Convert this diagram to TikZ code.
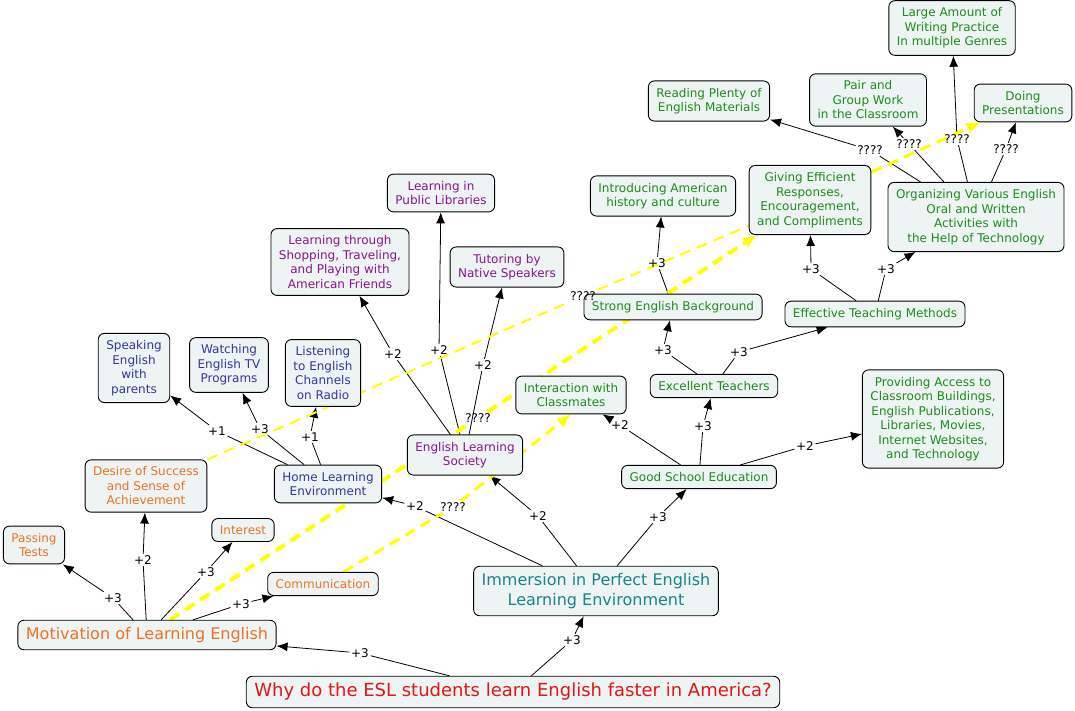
\documentclass[tikz,border=0pt]{standalone}
\usepackage{fontspec}
\setmainfont{DejaVu Sans}
\usetikzlibrary{arrows.meta,backgrounds}
\definecolor{boxfill}{HTML}{EEF4F4}
\definecolor{askred}{HTML}{E31515}
\definecolor{immteal}{HTML}{1A8585}
\definecolor{motorange}{HTML}{EE7222}
\definecolor{homeblue}{HTML}{34369A}
\definecolor{socpurple}{HTML}{8A168A}
\definecolor{schoolgreen}{HTML}{1E8C1E}
\definecolor{hiliteyellow}{HTML}{FFFF00}
\begin{document}
\begin{tikzpicture}[
        x=1pt, y=-1pt,
        concept/.style={draw, rounded corners=6pt, fill=boxfill, align=center, line width=0.9pt, inner xsep=8pt, inner ysep=7pt, font=\fontsize{12}{14.5}\selectfont},
        bigconcept/.style={concept, font=\fontsize{16}{20}\selectfont},
        lbl/.style={inner sep=1.5pt, font=\fontsize{12}{14}\selectfont},
        link/.style={line width=0.8pt},
        arrowlink/.style={link, -{Latex[length=11pt,width=9pt]}},
        crosslink/.style={hiliteyellow, line width=#1, dash pattern=on 11pt off 7pt},
        crosslink/.default=2pt,
        crossarrow/.style={crosslink=#1, -{Latex[length=14pt,width=12pt]}},
        crossarrow/.default=3pt
    ]
    \useasboundingbox (0,0) rectangle (1075,711);

    % concepts
    \node[concept, text=askred, font=\fontsize{18}{22}\selectfont] (why) at (513,692) {Why do the ESL students learn English faster in America?};
    \node[bigconcept, text=immteal] (imm) at (596,591) {Immersion in Perfect English\\Learning Environment};
    \node[bigconcept, text=motorange] (mot) at (147,635) {Motivation of Learning English};
    \node[concept, text=motorange] (pass) at (34,545) {Passing\\Tests};
    \node[concept, text=motorange] (desire) at (146,486) {Desire of Success\\and Sense of\\Achievement};
    \node[concept, text=motorange] (interest) at (243,530) {Interest};
    \node[concept, text=motorange] (comm) at (323,584) {Communication};
    \node[concept, text=homeblue] (home) at (328,484) {Home Learning\\Environment};
    \node[concept, text=homeblue] (speak) at (134,368) {Speaking\\English\\with\\parents};
    \node[concept, text=homeblue] (watch) at (229,365) {Watching\\English TV\\Programs};
    \node[concept, text=homeblue] (listen) at (323,373) {Listening\\to English\\Channels\\on Radio};
    \node[concept, text=socpurple] (soc) at (465,455) {English Learning\\Society};
    \node[concept, text=socpurple] (shop) at (340,262) {Learning through\\Shopping, Traveling,\\and Playing with\\American Friends};
    \node[concept, text=socpurple] (lib) at (441,193) {Learning in\\Public Libraries};
    \node[concept, text=socpurple] (tutor) at (507,267) {Tutoring by\\Native Speakers};
    \node[concept, text=schoolgreen] (inter) at (571,395) {Interaction with\\Classmates};
    \node[concept, text=schoolgreen] (school) at (699,477) {Good School Education};
    \node[concept, text=schoolgreen] (teach) at (714,386) {Excellent Teachers};
    \node[concept, text=schoolgreen] (access) at (933,419) {Providing Access to\\Classroom Buildings,\\English Publications,\\Libraries, Movies,\\Internet Websites,\\and Technology};
    \node[concept, text=schoolgreen] (strong) at (673,307) {Strong English Background};
    \node[concept, text=schoolgreen] (method) at (875,314) {Effective Teaching Methods};
    \node[concept, text=schoolgreen] (intro) at (663,196) {Introducing American\\history and culture};
    \node[concept, text=schoolgreen] (giving) at (810,200) {Giving Efficient\\Responses,\\Encouragement,\\and Compliments};
    \node[concept, text=schoolgreen] (organ) at (976,217) {Organizing Various English\\Oral and Written\\Activities with\\the Help of Technology};
    \node[concept, text=schoolgreen] (read) at (709,101) {Reading Plenty of\\English Materials};
    \node[concept, text=schoolgreen] (pair) at (868,100) {Pair and\\Group Work\\in the Classroom};
    \node[concept, text=schoolgreen] (large) at (952,28) {Large Amount of\\Writing Practice\\In multiple Genres};
    \node[concept, text=schoolgreen] (present) at (1023,103) {Doing\\Presentations};

    % link labels
    \node[lbl] (whymot) at (360,653) {+3};
    \node[lbl] (whyimm) at (572,640) {+3};
    \node[lbl] (motpass) at (113,598) {+3};
    \node[lbl] (motdesire) at (143,560) {+2};
    \node[lbl] (motinterest) at (206,572) {+3};
    \node[lbl] (motcomm) at (241,604) {+3};
    \node[lbl] (immhome) at (415,506) {+2};
    \node[lbl] (immsoc) at (538,516) {+2};
    \node[lbl] (immschool) at (658,517) {+3};
    \node[lbl] (homespeak) at (217,431) {+1};
    \node[lbl] (homewatch) at (260,429) {+3};
    \node[lbl] (homelisten) at (310,437) {+1};
    \node[lbl] (socshop) at (393,354) {+2};
    \node[lbl] (soclib) at (439,350) {+2};
    \node[lbl] (soctutor) at (483,365) {+2};
    \node[lbl] (schoolinter) at (620,425) {+2};
    \node[lbl] (schoolteach) at (703,426) {+3};
    \node[lbl] (schoolaccess) at (805,446) {+2};
    \node[lbl] (teachstrong) at (663,350) {+3};
    \node[lbl] (teachmethod) at (739,352) {+3};
    \node[lbl] (strongintro) at (657,263) {+3};
    \node[lbl] (methodgiving) at (811,269) {+3};
    \node[lbl] (methodorgan) at (886,269) {+3};
    \node[lbl] (organread) at (870,150) {????};
    \node[lbl] (organpair) at (909,144) {????};
    \node[lbl] (organlarge) at (957,139) {????};
    \node[lbl] (organpresent) at (1006,149) {????};
    \node[lbl] (desiregiving) at (583,296) {????};
    \node[lbl] (motgiving) at (478,418) {????};
    \node[lbl] (comminter) at (453,507) {????};

    \begin{scope}[on background layer]
    % propositions
    \draw[link] (why) -- (whymot); \draw[arrowlink] (whymot) -- (mot);
    \draw[link] (why) -- (whyimm); \draw[arrowlink] (whyimm) -- (imm);
    \draw[link] (mot) -- (motpass); \draw[arrowlink] (motpass) -- (pass);
    \draw[link] (mot) -- (motdesire); \draw[arrowlink] (motdesire) -- (desire);
    \draw[link] (mot) -- (motinterest); \draw[arrowlink] (motinterest) -- (interest);
    \draw[link] (mot) -- (motcomm); \draw[arrowlink] (motcomm) -- (comm);
    \draw[link] (imm) -- (immhome); \draw[arrowlink] (immhome) -- (home);
    \draw[link] (imm) -- (immsoc); \draw[arrowlink] (immsoc) -- (soc);
    \draw[link] (imm) -- (immschool); \draw[arrowlink] (immschool) -- (school);
    \draw[link] (home) -- (homespeak); \draw[arrowlink] (homespeak) -- (speak);
    \draw[link] (home) -- (homewatch); \draw[arrowlink] (homewatch) -- (watch);
    \draw[link] (home) -- (homelisten); \draw[arrowlink] (homelisten) -- (listen);
    \draw[link] (soc) -- (socshop); \draw[arrowlink] (socshop) -- (shop);
    \draw[link] (soc) -- (soclib); \draw[arrowlink] (soclib) -- (lib);
    \draw[link] (soc) -- (soctutor); \draw[arrowlink] (soctutor) -- (tutor);
    \draw[link] (school) -- (schoolinter); \draw[arrowlink] (schoolinter) -- (inter);
    \draw[link] (school) -- (schoolteach); \draw[arrowlink] (schoolteach) -- (teach);
    \draw[link] (school) -- (schoolaccess); \draw[arrowlink] (schoolaccess) -- (access);
    \draw[link] (teach) -- (teachstrong); \draw[arrowlink] (teachstrong) -- (strong);
    \draw[link] (teach) -- (teachmethod); \draw[arrowlink] (teachmethod) -- (method);
    \draw[link] (strong) -- (strongintro); \draw[arrowlink] (strongintro) -- (intro);
    \draw[link] (method) -- (methodgiving); \draw[arrowlink] (methodgiving) -- (giving);
    \draw[link] (method) -- (methodorgan); \draw[arrowlink] (methodorgan) -- (organ);
    \draw[link] (organ) -- (organread); \draw[arrowlink] (organread) -- (read);
    \draw[link] (organ) -- (organpair); \draw[arrowlink] (organpair) -- (pair);
    \draw[link] (organ) -- (organlarge); \draw[arrowlink] (organlarge) -- (large);
    \draw[link] (organ) -- (organpresent); \draw[arrowlink] (organpresent) -- (present);

    % cross links
    \draw[crosslink] (desire) -- (desiregiving) -- (giving);
    \draw[crosslink=4pt] (mot) -- (motgiving);
    \draw[crossarrow=4pt] (motgiving) -- (giving);
    \draw[crosslink=3pt] (comm) -- (comminter);
    \draw[crossarrow] (comminter) -- (inter.south);
    \draw[crossarrow] (giving) -- (present);
    \end{scope}
\end{tikzpicture}
\end{document}
